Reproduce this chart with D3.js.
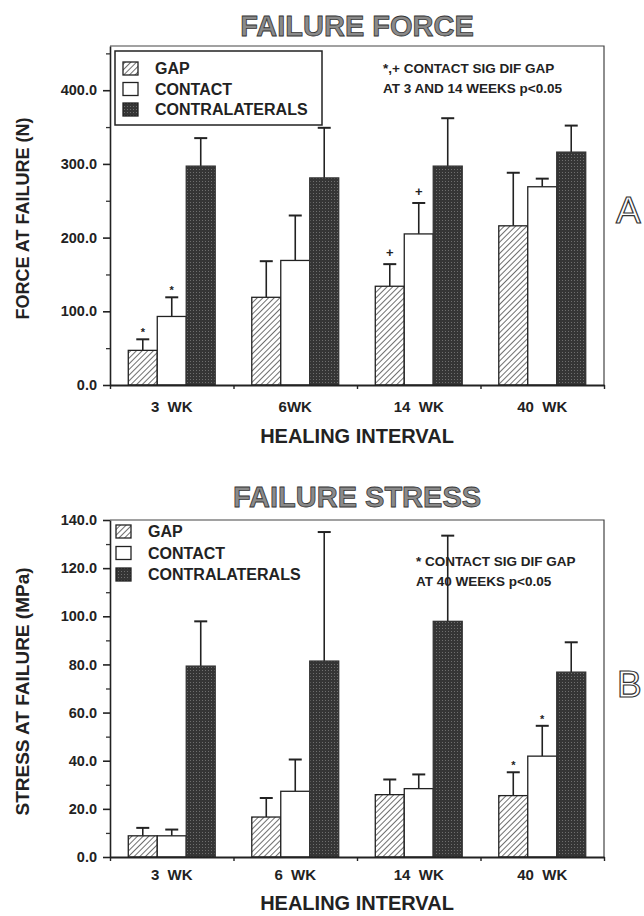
<!DOCTYPE html>
<html>
<head>
<meta charset="utf-8">
<script src="https://cdn.jsdelivr.net/npm/d3@7"></script>
<style>
  body { margin: 0; background: #fff; }
  svg text { font-family: "Liberation Sans", Arial, sans-serif; font-weight: bold; fill: #222; white-space: pre; }
</style>
</head>
<body>
<div id="viz"></div>
<script>
// Categories and series names
var weeks = ["3", "6", "14", "40"];
var weekLabelsA = ["3  WK", "6WK", "14  WK", "40  WK"];
var weekLabelsB = ["3  WK", "6  WK", "14  WK", "40  WK"];
var groups = ["GAP", "CONTACT", "CONTRALATERALS"];

// Panel A: force at failure (N), means and SD (upper error bar)
var forceGap = [47, 119, 134, 216];
var forceGapSd = [15, 49, 30, 72];
var forceContact = [93, 169, 205, 269];
var forceContactSd = [26, 61, 42, 11];
var forceContra = [297, 281, 297, 316];
var forceContraSd = [38, 68, 65, 36];
var forceTicks = [0, 100, 200, 300, 400];
var forceMinor = [50, 150, 250, 350, 450];
// significance marks: [week index, group index, mark]
var forceSig = [[0, 0, "*"], [0, 1, "*"], [2, 0, "+"], [2, 1, "+"]];

// Panel B: stress at failure (MPa)
var stressGap = [8.8, 16.6, 25.9, 25.5];
var stressGapSd = [3.3, 7.9, 6.3, 9.7];
var stressContact = [8.8, 27.3, 28.4, 41.9];
var stressContactSd = [2.6, 13.2, 5.9, 12.6];
var stressContra = [79.3, 81.4, 97.9, 76.8];
var stressContraSd = [18.6, 53.6, 35.6, 12.4];
var stressTicks = [0, 20, 40, 60, 80, 100, 120, 140];
var stressMinor = [10, 30, 50, 70, 90, 110, 130];
var stressSig = [[3, 0, "*"], [3, 1, "*"]];

var width = 644, height = 916;
var left = 110, right = 604;

var svg = d3.select("#viz").append("svg")
    .attr("width", width)
    .attr("height", height);

//Patterns for the fills
var defs = svg.append("defs");
var hatch = defs.append("pattern")
    .attr("id", "hatch")
    .attr("patternUnits", "userSpaceOnUse")
    .attr("width", 4).attr("height", 4)
    .attr("patternTransform", "rotate(45)");
hatch.append("rect").attr("width", 4).attr("height", 4).attr("fill", "#fff");
hatch.append("line").attr("x1", 0).attr("y1", 0).attr("x2", 0).attr("y2", 4)
    .attr("stroke", "#222").attr("stroke-width", 1.3);

var dots = defs.append("pattern")
    .attr("id", "dots")
    .attr("patternUnits", "userSpaceOnUse")
    .attr("width", 3).attr("height", 3);
dots.append("rect").attr("width", 3).attr("height", 3).attr("fill", "#353535");
dots.append("rect").attr("x", 1).attr("y", 1).attr("width", 1).attr("height", 1).attr("fill", "#6e6e6e");

var fills = ["url(#hatch)", "#fff", "url(#dots)"];

function drawPanel(p) {
    var g = svg.append("g");

    var y = d3.scaleLinear().domain([0, p.max]).range([p.bottom, p.top]);
    var x = d3.scaleBand().domain(weeks).range([left, right])
        .paddingInner(0.296).paddingOuter(0.148);
    var xs = d3.scaleBand().domain(groups).range([0, x.bandwidth()]);

    //Frame top and right
    g.append("path")
        .attr("d", "M" + left + "," + p.top + "H" + right + "V" + p.bottom)
        .attr("fill", "none").attr("stroke", "#444").attr("stroke-width", 1.2);

    //Bars
    var series = [p.gap, p.contact, p.contra];
    var sds = [p.gapSd, p.contactSd, p.contraSd];
    var rows = [];
    series.forEach(function(s, gi) {
        s.forEach(function(v, wi) {
            rows.push({ w: weeks[wi], g: groups[gi], gi: gi, v: v, sd: sds[gi][wi] });
        });
    });

    //Error bars (upper only)
    var eb = g.selectAll(".err").data(rows).enter().append("g").attr("class", "err");
    eb.append("line")
        .attr("x1", function(d) { return x(d.w) + xs(d.g) + xs.bandwidth() / 2; })
        .attr("x2", function(d) { return x(d.w) + xs(d.g) + xs.bandwidth() / 2; })
        .attr("y1", function(d) { return y(d.v); })
        .attr("y2", function(d) { return y(d.v + d.sd); })
        .attr("stroke", "#222").attr("stroke-width", 1.6);
    eb.append("line")
        .attr("x1", function(d) { return x(d.w) + xs(d.g) + xs.bandwidth() / 2 - 6.5; })
        .attr("x2", function(d) { return x(d.w) + xs(d.g) + xs.bandwidth() / 2 + 6.5; })
        .attr("y1", function(d) { return y(d.v + d.sd); })
        .attr("y2", function(d) { return y(d.v + d.sd); })
        .attr("stroke", "#222").attr("stroke-width", 2);

    g.selectAll(".bar").data(rows).enter().append("rect")
        .attr("x", function(d) { return x(d.w) + xs(d.g); })
        .attr("y", function(d) { return y(d.v); })
        .attr("width", xs.bandwidth())
        .attr("height", function(d) { return y(0) - y(d.v); })
        .attr("fill", function(d) { return fills[d.gi]; })
        .attr("stroke", function(d) { return d.gi == 2 ? "#333" : "#222"; })
        .attr("stroke-width", 1.3);

    //Significance marks
    g.selectAll(".sig").data(p.sig).enter().append("text")
        .attr("x", function(d) { return x(weeks[d[0]]) + xs(groups[d[1]]) + xs.bandwidth() / 2; })
        .attr("y", function(d) {
            var v = series[d[1]][d[0]] + sds[d[1]][d[0]];
            return y(v) - (d[2] == "+" ? 7 : 3);
        })
        .attr("text-anchor", "middle")
        .style("font-size", d => d[2] == "+" ? "13px" : "11px")
        .text(function(d) { return d[2]; });

    //Y axis
    g.append("g")
        .attr("transform", "translate(" + left + ",0)")
        .call(d3.axisLeft(y).tickValues(p.ticks).tickSize(7).tickSizeOuter(0)
            .tickPadding(6).tickFormat(d3.format(".1f")))
        .call(function(a) {
            a.select(".domain").attr("stroke", "#222").attr("stroke-width", 1.6);
            a.selectAll(".tick line").attr("stroke", "#222").attr("stroke-width", 1.6);
            a.selectAll("text").attr("fill", "#222").style("font-size", "14.5px")
                .style("font-family", "Liberation Sans, Arial, sans-serif");
        });
    g.append("g")
        .attr("transform", "translate(" + left + ",0)")
        .call(d3.axisLeft(y).tickValues(p.minor).tickSize(4).tickSizeOuter(0).tickFormat(""))
        .call(function(a) {
            a.select(".domain").remove();
            a.selectAll(".tick line").attr("stroke", "#333").attr("stroke-width", 1.3);
        });

    //X axis with ticks at the group boundaries
    var xb = d3.scaleLinear().domain([0, 4]).range([left, right]);
    g.append("g")
        .attr("transform", "translate(0," + p.bottom + ")")
        .call(d3.axisBottom(xb).ticks(4).tickSize(4).tickSizeOuter(0).tickFormat(""))
        .call(function(a) {
            a.select(".domain").attr("stroke", "#222").attr("stroke-width", 1.8);
            a.selectAll(".tick line").attr("stroke", "#222").attr("stroke-width", 1.4);
        });

    g.selectAll(".cat").data(weeks).enter().append("text")
        .attr("x", function(d) { return x(d) + x.bandwidth() / 2; })
        .attr("y", p.catY)
        .attr("text-anchor", "middle")
        .style("font-size", "15px")
        .text(function(d, i) { return p.catLabels[i]; });

    //Axis titles
    g.append("text")
        .attr("x", (left + right) / 2).attr("y", p.xTitleY)
        .attr("text-anchor", "middle")
        .style("font-size", "20px")
        .text("HEALING INTERVAL");
    g.append("text")
        .attr("transform", "translate(" + p.yTitleX + "," + ((p.top + p.bottom) / 2 + 3) + ") rotate(-90)")
        .attr("text-anchor", "middle")
        .style("font-size", p.yTitleSize)
        .text(p.yTitle);

    //Panel title
    g.append("text")
        .attr("x", (left + right) / 2).attr("y", p.titleY)
        .attr("text-anchor", "middle")
        .style("font-size", "29px")
        .style("fill", "#8a8a8a").attr("stroke", "#333").attr("stroke-width", 0.8)
        .text(p.title);

    //Panel letter
    g.append("text")
        .attr("x", p.letterX).attr("y", p.letterY)
        .style("font-size", "37px").style("font-weight", "normal")
        .style("fill", "#fff").attr("stroke", "#333").attr("stroke-width", 1.2)
        .text(p.letter);

    //Legend
    var lg = g.append("g");
    if (p.legendBox) {
        lg.append("rect")
            .attr("x", p.legendBox[0]).attr("y", p.legendBox[1])
            .attr("width", p.legendBox[2]).attr("height", p.legendBox[3])
            .attr("fill", "#fff").attr("stroke", "#222").attr("stroke-width", 1.5);
    }
    var li = lg.selectAll(".li").data(groups).enter().append("g");
    li.append("rect")
        .attr("x", p.legendX)
        .attr("y", function(d, i) { return p.legendY + i * p.legendStep - 12; })
        .attr("width", 15).attr("height", 13)
        .attr("fill", function(d, i) { return fills[i]; })
        .attr("stroke", "#222").attr("stroke-width", 1.3);
    li.append("text")
        .attr("x", p.legendX + 32)
        .attr("y", function(d, i) { return p.legendY + i * p.legendStep; })
        .style("font-size", "16px")
        .text(function(d) { return d; });

    //Note
    g.selectAll(".note").data(p.note).enter().append("text")
        .attr("x", p.noteX)
        .attr("y", function(d, i) { return p.noteY + i * 19.5; })
        .style("font-size", "13.5px")
        .text(function(d) { return d; });
}

drawPanel({
    title: "FAILURE FORCE", titleY: 36,
    letter: "A", letterX: 616, letterY: 223,
    top: 46, bottom: 385, max: 460,
    ticks: forceTicks, minor: forceMinor,
    gap: forceGap, gapSd: forceGapSd,
    contact: forceContact, contactSd: forceContactSd,
    contra: forceContra, contraSd: forceContraSd,
    sig: forceSig,
    catLabels: weekLabelsA, catY: 412, xTitleY: 443,
    yTitle: "FORCE AT FAILURE (N)", yTitleX: 29, yTitleSize: "18px",
    legendBox: [115, 51, 207, 74], legendX: 123, legendY: 74, legendStep: 20.5,
    note: ["*,+ CONTACT SIG DIF GAP", "AT 3 AND 14 WEEKS p<0.05"], noteX: 383, noteY: 73
});

drawPanel({
    title: "FAILURE STRESS", titleY: 507,
    letter: "B", letterX: 617, letterY: 697,
    top: 520, bottom: 857, max: 140,
    ticks: stressTicks, minor: stressMinor,
    gap: stressGap, gapSd: stressGapSd,
    contact: stressContact, contactSd: stressContactSd,
    contra: stressContra, contraSd: stressContraSd,
    sig: stressSig,
    catLabels: weekLabelsB, catY: 880, xTitleY: 910,
    yTitle: "STRESS AT FAILURE (MPa)", yTitleX: 29, yTitleSize: "19px",
    legendBox: null, legendX: 116, legendY: 537, legendStep: 21.5,
    note: ["* CONTACT SIG DIF GAP", "AT 40 WEEKS p<0.05"], noteX: 416, noteY: 566
});
</script>
</body>
</html>
